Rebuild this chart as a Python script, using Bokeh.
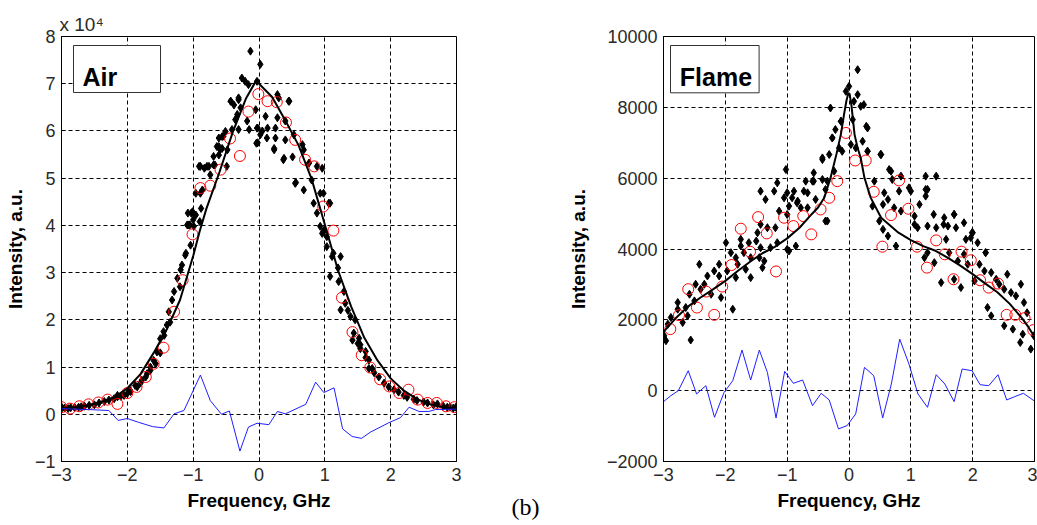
import math
from bokeh.plotting import figure
from bokeh.models import Range1d, FixedTicker, Label, BoxAnnotation, Title
from bokeh.layouts import row
from bokeh.embed import file_html
from bokeh.resources import INLINE

# ---------------- data: Air (intensity in units of 1e4) ----------------
x_ticks = [-3, -2, -1, 0, 1, 2, 3]
air_y_ticks = [-1, 0, 1, 2, 3, 4, 5, 6, 7, 8]
flame_y_ticks = [-2000, 0, 2000, 4000, 6000, 8000, 10000]

air_fit_x = [-3.0, -2.8, -2.6, -2.4, -2.2, -2.0, -1.8, -1.6, -1.4, -1.2, -1.0, -0.9, -0.8,
             -0.6, -0.4, -0.2, -0.05, 0.0, 0.2, 0.4, 0.6, 0.8, 1.0, 1.2, 1.4, 1.6, 1.8,
             2.0, 2.2, 2.4, 2.6, 2.8, 3.0]
air_fit_y = [0.12, 0.15, 0.19, 0.26, 0.36, 0.55, 0.85, 1.30, 1.80, 2.42, 3.35, 3.88, 4.35,
             5.13, 5.97, 6.68, 7.05, 7.00, 6.72, 6.22, 5.70, 4.98, 4.02, 3.05, 2.28, 1.62,
             1.14, 0.76, 0.50, 0.32, 0.21, 0.15, 0.12]

air_circ_x = [-3.00, -2.87, -2.73, -2.59, -2.44, -2.30, -2.15, -2.00, -1.86, -1.72, -1.60,
              -1.45, -1.29, -1.16, -1.01, -0.89, -0.74, -0.585, -0.44, -0.29, -0.16, -0.01,
              0.13, 0.27, 0.41, 0.55, 0.70, 0.84, 0.975, 1.13, 1.26, 1.42, 1.56, 1.69, 1.84,
              1.98, 2.13, 2.27, 2.41, 2.56, 2.70, 2.84, 2.97]
air_circ_y = [0.15, 0.12, 0.17, 0.21, 0.25, 0.31, 0.22, 0.45, 0.58, 0.79, 1.07,
              1.41, 2.17, 2.84, 3.81, 4.79, 4.84, 5.18, 5.84, 5.47, 6.41, 6.78,
              6.63, 6.61, 6.18, 5.81, 5.39, 5.25, 4.40, 3.89, 2.47, 1.74, 1.25, 0.99, 0.74,
              0.59, 0.45, 0.52, 0.31, 0.24, 0.24, 0.17, 0.15]

air_res_x = [-3.0, -2.59, -2.28, -2.14, -2.0, -1.83, -1.62, -1.445, -1.29, -1.14, -0.89, -0.74,
             -0.57, -0.45, -0.29, -0.16, -0.03, 0.15, 0.28, 0.40, 0.71, 0.86, 0.985, 1.14,
             1.27, 1.415, 1.557, 1.69, 1.97, 2.15, 2.28, 2.43, 2.58, 2.68, 3.0]
air_res_y = [0.12, 0.10, 0.08, -0.13, -0.09, -0.17, -0.26, -0.29, 0.01, 0.08, 0.83, 0.29,
             0.0, 0.07, -0.78, -0.27, -0.19, -0.22, 0.06, 0.01, 0.21, 0.68, 0.46, 0.56,
             -0.31, -0.47, -0.51, -0.38, -0.18, -0.07, 0.15, 0.06, 0.06, 0.10, 0.11]

air_dots = [
    (-0.13, 7.69), (0.02, 7.41), (-0.26, 7.12), (-0.21, 7.05), (-0.43, 6.63), (-0.31, 6.70),
    (-0.28, 6.49), (-0.33, 6.35), (-0.36, 6.24), (-0.18, 6.21), (-0.15, 6.03), (-0.31, 6.03),
    (-0.41, 6.03), (-0.51, 5.99), (-0.54, 5.89), (-0.61, 5.85), (-0.64, 5.67), (-0.56, 5.63),
    (-0.48, 5.60), (-0.02, 6.06), (-0.02, 5.75), (0.02, 5.92), (0.13, 6.06), (0.10, 6.31),
    (0.25, 6.06), (0.25, 5.85), (0.28, 6.28), (0.30, 6.70), (0.46, 6.63), (0.23, 5.63),
    (0.38, 5.42), (0.40, 5.81), (0.51, 5.45), (0.40, 6.21), (0.53, 5.92), (0.66, 5.71),
    (0.68, 5.60), (0.76, 5.32), (0.88, 5.25), (0.96, 5.21), (0.55, 4.89), (0.68, 4.75),
    (0.80, 4.96), (0.98, 4.68), (0.83, 4.47), (0.88, 4.26), (1.08, 4.47), (0.93, 3.98),
    (0.98, 3.87), (1.03, 3.76), (-0.76, 5.25), (-0.91, 5.25), (-0.83, 5.21), (-0.67, 5.28),
    (-0.49, 5.25), (-0.74, 5.07), (-0.61, 5.49), (-0.59, 5.60), (-0.86, 4.75), (-0.96, 4.68),
    (-0.88, 4.36), (-1.03, 4.26), (-1.00, 4.12), (-1.05, 4.01), (-1.09, 4.01), (-0.90, 4.08),
    (-0.16, 6.98), (-0.03, 7.05), (-0.05, 6.45), (-0.03, 6.06), (-0.04, 5.74), (0.05, 6.00),
    (0.12, 5.85), (0.28, 6.77), (0.45, 6.63), (0.23, 5.60), (0.37, 5.39), (0.56, 4.91),
    (0.93, 4.68), (1.06, 4.47), (-1.12, 3.37), (-1.08, 4.26), (-1.01, 4.29), (-0.96, 4.22),
    (-0.89, 4.68), (-0.89, 5.25), (-0.79, 5.25), (-0.69, 5.28), (-0.69, 5.46), (-0.61, 5.67),
    (-0.56, 5.88), (-0.43, 6.63), (-0.38, 6.55), (-0.31, 6.66),
    (-1.07, 4.01), (-0.99, 3.98), (-1.04, 3.58), (-1.11, 3.41), (-1.17, 3.16), (-1.19, 3.06),
    (-1.24, 2.88), (-1.29, 2.60), (-1.32, 2.42), (-1.37, 2.17), (-1.40, 1.89), (-1.45, 1.75),
    (-1.50, 1.60), (-1.55, 1.32), (-1.60, 1.14), (-1.65, 1.00), (-1.70, 0.86), (-1.78, 0.72),
    (-1.85, 0.58), (-1.96, 0.51), (-2.05, 0.40), (-2.15, 0.37),
    (0.99, 3.90), (0.96, 3.83), (1.03, 3.55), (1.13, 3.41), (1.24, 3.34), (1.11, 3.34),
    (1.08, 2.92), (1.21, 2.81), (1.29, 2.60), (1.24, 2.21), (1.31, 2.35), (1.39, 2.07),
    (1.46, 2.00), (1.44, 1.72), (1.52, 1.61), (1.54, 1.47), (1.62, 1.33), (1.67, 1.15),
    (1.72, 0.97),
    (-2.99, 0.14), (-2.86, 0.14), (-2.74, 0.15), (-2.58, 0.19), (-2.43, 0.24), (-2.28, 0.30),
    (-2.15, 0.40), (-2.00, 0.44), (-1.88, 0.61), (-1.72, 0.79), (-1.57, 1.07), (-1.44, 1.67),
    (1.42, 1.57), (1.54, 1.39), (1.67, 0.97), (1.82, 0.79), (1.97, 0.58), (2.12, 0.47),
    (2.25, 0.36), (2.40, 0.29), (2.56, 0.24), (2.71, 0.22), (2.86, 0.15), (2.99, 0.15),
    (-2.95, 0.13), (-2.90, 0.12), (-2.80, 0.14), (-2.70, 0.16), (-2.65, 0.17), (-2.50, 0.20),
    (-2.35, 0.27), (-2.20, 0.33), (-2.10, 0.38), (-1.95, 0.48), (-1.80, 0.66), (-1.65, 0.93),
    (-1.50, 1.30), (-1.35, 1.95), (-1.20, 2.70), (1.75, 0.88), (1.90, 0.66), (2.05, 0.52),
    (2.20, 0.40), (2.35, 0.32), (2.50, 0.26), (2.65, 0.20), (2.80, 0.17), (2.90, 0.15),
    (2.95, 0.13), (1.35, 2.20), (1.50, 1.50), (1.62, 1.20), (1.20, 3.10),
]

# ---------------- data: Flame ----------------
flame_fit_x = [-3.0, -2.8, -2.6, -2.4, -2.2, -2.0, -1.8, -1.6, -1.4, -1.2, -1.0, -0.8, -0.6,
               -0.5, -0.4, -0.3, -0.2, -0.13, -0.08, -0.04, -0.01, 0.01, 0.04, 0.09, 0.14,
               0.19, 0.25, 0.35, 0.52, 0.8, 1.0, 1.2, 1.4, 1.6, 1.8, 2.0, 2.2, 2.4, 2.6,
               2.8, 2.9, 3.0]
flame_fit_y = [1660, 2050, 2380, 2630, 2860, 3100, 3380, 3640, 3880, 4060, 4300, 4600, 4990,
               5170, 5446, 6000, 6700, 7250, 7800, 8200, 8400, 8380, 8050, 7230, 6850,
               6570, 6010, 5450, 4880, 4460, 4250, 4080, 3950, 3750, 3530, 3290, 3030, 2780,
               2450, 2040, 1800, 1520]

flame_circ_x = [-2.89, -2.75, -2.60, -2.46, -2.31, -2.18, -2.05, -1.90, -1.75, -1.60, -1.47,
                -1.33, -1.18, -1.05, -0.90, -0.74, -0.61, -0.46, -0.32, -0.19, -0.05, 0.10,
                0.27, 0.40, 0.54, 0.68, 0.81, 0.96, 1.10, 1.26, 1.41, 1.55, 1.69, 1.82, 1.97,
                2.12, 2.26, 2.41, 2.55, 2.69, 2.84, 2.98]
flame_circ_y = [1738, 2132, 2865, 2347, 2798, 2141, 2939, 3549, 4573, 3924, 4901,
                4441, 3366, 4883, 4648, 4929, 4413, 5117, 5446, 5916, 7277, 6499,
                6499, 5615, 4066, 4958, 5935, 5136, 4066, 3474, 4244, 3850, 3146, 3925, 3682,
                3118, 2910, 3023, 2141, 2141, 2048, 1710]

flame_res_x = [-3.0, -2.88, -2.76, -2.60, -2.465, -2.315, -2.175, -2.02, -1.88, -1.73, -1.59,
               -1.45, -1.32, -1.18, -1.04, -0.90, -0.75, -0.59, -0.45, -0.32, -0.17, -0.03,
               0.108, 0.25, 0.40, 0.545, 0.685, 0.82, 0.97, 1.115, 1.27, 1.41, 1.55, 1.70,
               1.83, 1.99, 2.12, 2.26, 2.41, 2.55, 2.68, 2.82, 2.99]
flame_res_y = [-310, -141, 0, 563, -93, 141, -751, -47, 282, 1146, 301,
               1146, 516, -770, 545, 207, 301, -422, -75, -263, -1080, -986,
               -658, 657, 423, -770, 188, 1456, 751, -94, -470, 451, 188, -310,
               611, 563, 169, 141, 451, -263, -169, -75, -282]

flame_dots = [
    (-0.30, 7981), (-0.13, 7606), (-0.27, 7136), (-0.11, 6760), (-0.43, 6526), (-0.32, 6667),
    (-1.02, 6244), (-0.57, 6150), (-0.24, 6197), (-0.70, 5915), (-0.59, 5915), (-0.43, 5962),
    (-1.16, 5868), (-1.43, 5634), (-1.21, 5634), (-1.00, 5587), (-0.89, 5634), (-0.73, 5634),
    (-0.38, 5681), (-1.35, 5399), (-1.05, 5446), (-0.92, 5446), (-0.84, 5305), (-0.97, 5211),
    (-1.13, 5070), (-1.00, 4976), (-0.54, 5399), (-0.67, 5164), (-0.78, 5164), (-0.35, 4789),
    (-1.43, 4695), (-1.32, 4601), (-1.19, 4601), (-1.48, 4460), (-1.75, 4272), (-1.75, 4085),
    (-1.62, 4178), (-1.50, 4225), (-1.43, 4037), (-1.99, 4178), (-1.70, 3897), (-1.27, 4037),
    (-1.16, 4178), (-1.00, 3990), (-0.86, 4085), (-0.97, 3944), (-1.91, 3897), (-1.83, 3756),
    (-1.59, 3756), (-1.45, 3756), (-1.37, 3662), (-1.80, 3568), (-1.67, 3427), (-1.97, 3380),
    (-2.10, 3568), (-2.18, 3380), (-2.42, 3568), (-2.10, 3239), (-1.83, 3192), (-1.59, 3192),
    (-1.40, 3474), (-2.29, 3239), (-2.34, 3005), (-2.48, 3005), (-2.40, 2864), (-2.58, 2723),
    (-2.23, 2723), (-2.07, 2629), (-2.50, 2535), (-1.88, 2300), (-2.77, 2488), (-2.64, 2347),
    (-2.77, 2300), (-2.88, 2066), (-2.69, 1925), (-2.61, 2113), (-2.93, 1878), (-2.56, 1430),
    (-2.99, 1549), (-2.96, 1409),
    (0.28, 7465), (0.22, 7042), (0.30, 6760), (0.52, 6667), (0.11, 6854), (0.19, 8028),
    (0.06, 7653), (0.68, 6197), (1.41, 6056), (0.70, 5962), (0.41, 5915), (0.81, 5634),
    (0.57, 5587), (1.00, 5634), (1.24, 5681), (0.63, 5399), (0.55, 5258), (0.38, 5211),
    (0.73, 5164), (1.14, 5258), (0.84, 5070), (1.06, 4929), (0.49, 4789), (1.54, 4883),
    (1.70, 4976), (1.86, 4742), (1.06, 4695), (1.27, 4648), (1.41, 4601), (1.60, 4648),
    (1.73, 4601), (1.11, 4601), (0.55, 4554), (0.63, 4366), (2.00, 4460), (1.97, 4319),
    (1.89, 4272), (1.57, 4272), (0.76, 4085), (1.27, 3897), (1.22, 3756), (1.38, 3615),
    (1.62, 3897), (1.76, 3662), (2.08, 4178), (2.21, 3897), (1.86, 3850), (1.92, 3568),
    (2.11, 3568), (2.19, 3380), (2.30, 3333), (2.38, 3145), (2.56, 3286), (2.43, 3005),
    (2.51, 2864), (2.62, 2770), (2.70, 2676), (2.78, 3005), (2.83, 2488), (2.24, 2347),
    (2.30, 2113), (2.51, 1831), (2.65, 1737), (2.81, 1596), (1.49, 3052), (1.81, 2911),
    (1.70, 3145), (2.03, 3098), (2.77, 1361), (2.94, 1174), (2.99, 1549), (2.88, 2200),
    (0.14, 9063), (0.00, 8592), (-0.05, 8451), (0.08, 8169), (0.24, 8076), (0.14, 8358),
    (-0.13, 7606), (0.30, 7418), (-0.22, 7372), (-0.27, 7136), (0.03, 6949), (0.30, 6761),
    (-0.43, 6572), (-0.16, 6854), (0.51, 6668), (-0.35, 5916), (-0.57, 5916), (-0.83, 5352),
    (-0.38, 4789), (-0.67, 5586), (0.65, 6245), (0.84, 6057), (1.24, 6057), (1.27, 5681),
    (1.37, 4977), (1.70, 4977), (1.99, 4460), (2.21, 3897), (1.53, 4695), (0.97, 5727),
    (1.24, 5493),
]

# ---------------- layout constants ----------------
FIG_H = 525
TOP, BOTTOM = 36, 64
L_W, L_LEFT, L_RIGHT = 505, 61, 49
GAP_W = 40
R_W, R_LEFT, R_RIGHT = 492, 118, 3
FONT = "Liberation Sans"


def style(p, yticks, ylabel_standoff):
    p.xaxis.ticker = FixedTicker(ticks=x_ticks)
    p.yaxis.ticker = FixedTicker(ticks=yticks)
    for ax in (p.xaxis[0], p.yaxis[0]):
        ax.major_label_text_font = FONT
        ax.major_label_text_font_size = "18px"
        ax.major_label_text_color = "#2a2a2a"
        ax.major_tick_in = 4
        ax.major_tick_out = 0
        ax.minor_tick_line_color = None
        ax.axis_line_color = "black"
        ax.major_tick_line_color = "black"
        ax.major_label_standoff = 6
        ax.axis_label_text_font = FONT
        ax.axis_label_text_font_size = "19px"
        ax.axis_label_text_font_style = "bold"
        ax.axis_label_text_color = "black"
    p.xaxis.axis_label = "Frequency, GHz"
    p.xaxis.axis_label_standoff = 6
    p.yaxis.axis_label = "Intensity, a.u."
    p.yaxis.axis_label_standoff = ylabel_standoff
    for g in (p.xgrid[0], p.ygrid[0]):
        g.grid_line_color = "black"
        g.grid_line_dash = "4 3"
        g.grid_line_width = 1
    p.outline_line_color = "black"
    p.outline_line_width = 1
    p.background_fill_color = "white"
    p.border_fill_color = "white"


def make_panel(width, bl, br, xr, yr, yticks, ylabel_standoff):
    p = figure(width=width, height=FIG_H, x_range=Range1d(*xr), y_range=Range1d(*yr),
               output_backend="svg", toolbar_location=None,
               min_border_left=bl, min_border_right=br, min_border_top=TOP,
               min_border_bottom=BOTTOM)
    style(p, yticks, ylabel_standoff)
    return p


def add_common(p, fw, fh, xr, yr, dots, cx, cy, fx, fy, rx, ry, name, box_px):
    def px2x(px):
        return xr[0] + px / fw * (xr[1] - xr[0])

    def py2y(py):
        return yr[1] - py / fh * (yr[1] - yr[0])

    p.scatter([d[0] for d in dots], [d[1] for d in dots], marker="diamond", size=8,
              color="black")
    p.scatter(cx, cy, marker="circle", size=11, fill_color=None, line_color="#ff0000",
              line_width=1)
    p.line(fx, fy, color="black", line_width=2)
    p.line(rx, ry, color="#1f1fff", line_width=1)

    l, r, t, b, tx = box_px
    p.add_layout(BoxAnnotation(left=px2x(l), right=px2x(r), top=py2y(t), bottom=py2y(b),
                               fill_color="white", fill_alpha=1.0,
                               line_color="#333333", line_width=1, line_alpha=1.0))
    p.add_layout(Label(x=px2x(tx), y=py2y(40), text=name, text_font=FONT,
                       text_font_size="25px", text_font_style="bold",
                       text_align="left", text_baseline="alphabetic", text_color="black"))


# ---------------- left panel: Air ----------------
air_xr, air_yr = (-3, 3), (-1, 8)
p1 = make_panel(L_W, L_LEFT, L_RIGHT, air_xr, air_yr, air_y_ticks, 6)
fw1, fh1 = L_W - L_LEFT - L_RIGHT, FIG_H - TOP - BOTTOM
add_common(p1, fw1, fh1, air_xr, air_yr, air_dots, air_circ_x, air_circ_y,
           air_fit_x, air_fit_y, air_res_x, air_res_y, "Air", (12, 99, 9, 56, 21))
p1.add_layout(Title(text="x 10\u2074", align="left", offset=-2, standoff=3,
                    text_font=FONT, text_font_size="19px", text_font_style="normal",
                    text_color="#2a2a2a"), "above")

# ---------------- spacer holding the "(b)" caption ----------------
pg = figure(width=GAP_W, height=FIG_H, x_range=Range1d(0, 1), y_range=Range1d(0, 1),
            output_backend="svg", toolbar_location=None, x_axis_location="below",
            y_axis_location=None, min_border_left=0, min_border_right=0,
            min_border_top=TOP, min_border_bottom=BOTTOM)
pg.grid.visible = False
pg.outline_line_color = None
pg.border_fill_color = "white"
pg.background_fill_color = "white"
pg.xaxis.ticker = FixedTicker(ticks=[])
pg.xaxis.axis_line_color = None
pg.xaxis.major_tick_line_color = None
pg.xaxis.minor_tick_line_color = None
pg.xaxis.major_label_text_font_size = "0px"
pg.xaxis.axis_label = "(b)"
pg.xaxis.axis_label_text_font = "Liberation Serif"
pg.xaxis.axis_label_text_font_size = "24px"
pg.xaxis.axis_label_text_font_style = "normal"
pg.xaxis.axis_label_text_color = "black"
pg.xaxis.axis_label_standoff = 32

# ---------------- right panel: Flame ----------------
fl_xr, fl_yr = (-3, 3), (-2000, 10000)
p2 = make_panel(R_W, R_LEFT, R_RIGHT, fl_xr, fl_yr, flame_y_ticks, 15)
fw2, fh2 = R_W - R_LEFT - R_RIGHT, FIG_H - TOP - BOTTOM
add_common(p2, fw2, fh2, fl_xr, fl_yr, flame_dots, flame_circ_x, flame_circ_y,
           flame_fit_x, flame_fit_y, flame_res_x, flame_res_y, "Flame",
           (7, 95.6, 9, 56.3, 16.3))

layout = row(p1, pg, p2)
open("out.html", "w").write(file_html(layout, INLINE))
